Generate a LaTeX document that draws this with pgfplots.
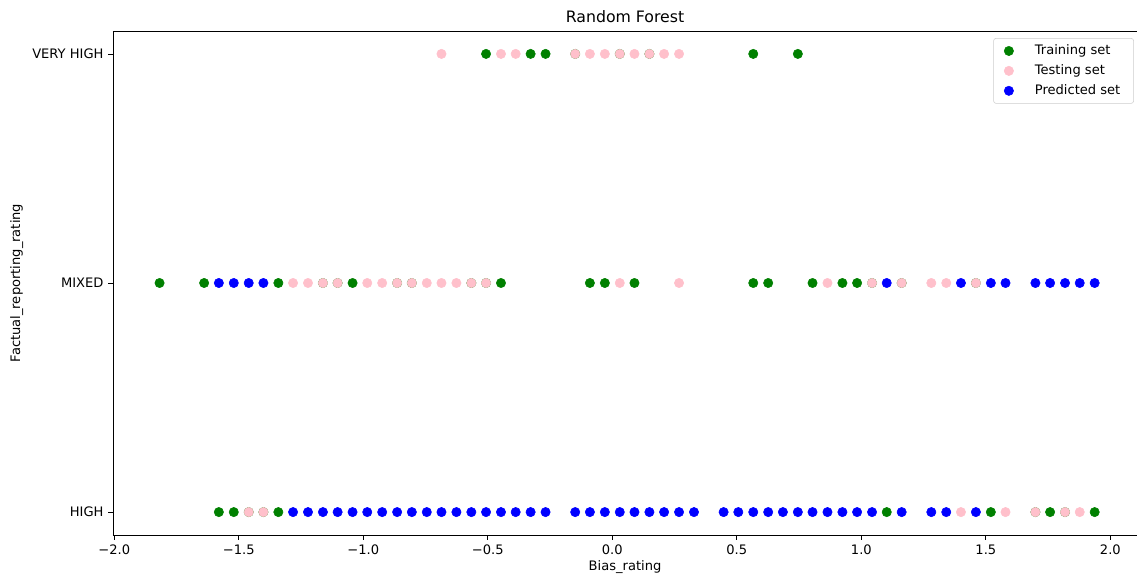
\documentclass[border=0pt]{standalone}
\usepackage{pgfplots}
\pgfplotsset{compat=1.18}
\usepackage{fontspec}
\setmainfont{DejaVu Sans}
\definecolor{mgreen}{RGB}{0,128,0}
\definecolor{mpink}{RGB}{255,192,203}
\definecolor{mblue}{RGB}{0,0,255}
\begin{document}
\begin{tikzpicture}
\useasboundingbox (-84.75pt,-31.5pt) rectangle (768pt,401.25pt);
\begin{axis}[
  at={(0pt,0pt)}, anchor=south west,
  scale only axis, width=768pt, height=378pt,
  xmin=-2.005, xmax=2.107, ymin=-0.1, ymax=2.1,
  axis x line*=box, axis y line*=left,
  x axis line style={-}, y axis line style={-},
  xtick pos=bottom, ytick pos=left,
  tick align=outside, major tick length=3.6pt,
  every tick/.style={black, line width=0.6pt},
  axis line style={line width=0.6pt},
  xtick={-2,-1.5,-1,-0.5,0,0.5,1,1.5,2},
  xticklabels={−2.0,−1.5,−1.0,−0.5,0.0,0.5,1.0,1.5,2.0},
  ytick={0,1,2}, yticklabels={HIGH,MIXED,VERY HIGH},
  tick label style={font=\fontsize{9.8}{12}\selectfont},
  label style={font=\fontsize{9.8}{12}\selectfont},
  ylabel shift=0pt,
  xlabel style={yshift=2pt},
  title style={font=\fontsize{11.8}{14}\selectfont, yshift=-3pt},
  title={Random Forest},
  xlabel={Bias\_rating},
  ylabel={Factual\_reporting\_rating},
  legend style={at={(rel axis cs:0.997,0.986)}, anchor=north east,
    draw=black!20, rounded corners=2pt, font=\fontsize{9.8}{12}\selectfont,
    row sep=2pt, inner xsep=8pt, inner ysep=3pt,
    /tikz/every odd column/.append style={column sep=14pt}},
  legend cell align=left,
]
\addplot[only marks, mark=*, color=mgreen, mark size=3.5pt] coordinates {
 (-0.507,2) (-0.328,2) (-0.268,2) (0.566,2) (0.745,2) (-0.149,2) (0.030,2) (0.149,2)
 (-1.818,1) (-1.639,1) (-1.341,1) (-1.043,1) (-0.447,1) (-0.090,1) (-0.030,1) (0.089,1)
 (0.566,1) (0.626,1) (0.804,1) (0.924,1) (0.983,1)
 (-1.162,1) (-1.103,1) (-0.864,1) (-0.805,1) (-0.566,1) (-0.507,1) (1.043,1) (1.162,1) (1.460,1)
 (-1.580,0) (-1.520,0) (-1.341,0) (1.102,0) (1.520,0) (1.758,0) (1.937,0)
 (-1.460,0) (-1.401,0) (1.699,0) (1.818,0)
};
\addlegendentry{Training set}
\addplot[only marks, mark=*, color=mpink, mark size=3.5pt] coordinates {
 (-0.686,2) (-0.447,2) (-0.388,2) (-0.149,2) (-0.090,2) (-0.030,2) (0.030,2) (0.089,2) (0.149,2) (0.208,2) (0.268,2)
 (-1.282,1) (-1.222,1) (-1.162,1) (-1.103,1) (-0.984,1) (-0.924,1) (-0.864,1) (-0.805,1) (-0.745,1)
 (-0.686,1) (-0.626,1) (-0.566,1) (-0.507,1) (0.030,1) (0.268,1) (0.864,1) (1.043,1) (1.162,1)
 (1.281,1) (1.341,1) (1.460,1)
 (-1.460,0) (-1.401,0) (1.400,0) (1.579,0) (1.699,0) (1.818,0) (1.877,0)
};
\addlegendentry{Testing set}
\addplot[only marks, mark=*, color=mblue, mark size=3.5pt] coordinates {
 (-1.580,1) (-1.520,1) (-1.460,1) (-1.401,1) (1.102,1) (1.400,1) (1.520,1) (1.579,1) (1.699,1)
 (1.758,1) (1.818,1) (1.877,1) (1.937,1)
 (-1.282,0) (-1.222,0) (-1.162,0) (-1.103,0) (-1.043,0) (-0.984,0) (-0.924,0) (-0.864,0) (-0.805,0)
 (-0.745,0) (-0.686,0) (-0.626,0) (-0.566,0) (-0.507,0) (-0.447,0) (-0.388,0) (-0.328,0) (-0.268,0)
 (-0.149,0) (-0.090,0) (-0.030,0) (0.030,0) (0.089,0) (0.149,0) (0.208,0) (0.268,0) (0.328,0)
 (0.447,0) (0.506,0) (0.566,0) (0.626,0) (0.685,0) (0.745,0) (0.804,0) (0.864,0) (0.924,0)
 (0.983,0) (1.043,0) (1.162,0) (1.281,0) (1.341,0) (1.460,0)
};
\addlegendentry{Predicted set}
\end{axis}
\end{tikzpicture}
\end{document}
